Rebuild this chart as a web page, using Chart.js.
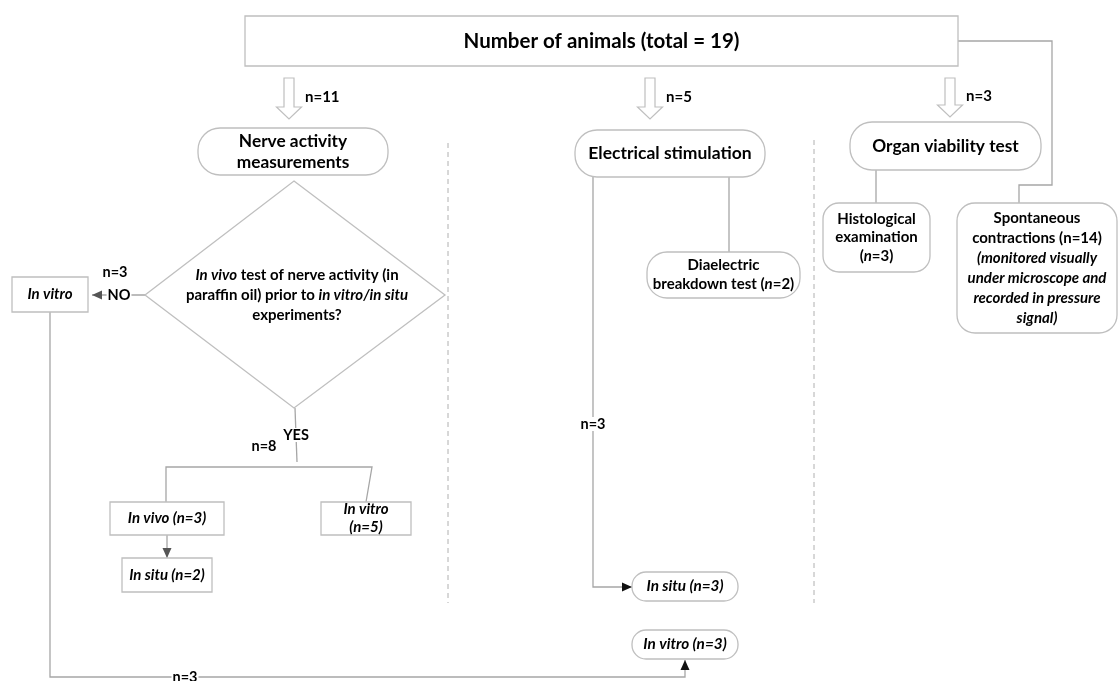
<!DOCTYPE html>
<html>
<head>
<meta charset="utf-8">
<script src="https://cdn.jsdelivr.net/npm/chart.js@4.4.1/dist/chart.umd.min.js"></script>
<style>
  body { margin: 0; background: #fff; }
  #wrap { width: 1118px; height: 681px; }
</style>
</head>
<body>
<div id="wrap"><canvas id="myChart" width="1118" height="681"></canvas></div>
<script>
// Values of the flowchart
const totalAnimals = 19
const branchNames = ['Nerve activity measurements', 'Electrical stimulation', 'Organ viability test']
const branchN = [11, 5, 3]
const nerveAnswers = ['NO', 'YES']
const nerveAnswerN = [3, 8]
const nerveOutcomes = ['In vitro', 'In vivo', 'In situ', 'In vitro']
const nerveOutcomeN = [3, 3, 2, 5]
const elecOutcomes = ['Diaelectric breakdown test', 'In situ', 'In vitro']
const elecOutcomeN = [2, 3, 3]
const viabilityOutcomes = ['Histological examination', 'Spontaneous contractions']
const viabilityOutcomeN = [3, 14]

// Helpers for segments: [text, italic]
const B = t => [t, false]
const I = t => [t, true]

// Layout (chart units, y going down)
const LINE = '#a6a6a6'
const BORDER = '#bfbfbf'

const nodes = [
  { box: [245, 16, 958, 66], r: 0, size: 20.5, lines: [[B('Number of animals (total = ' + totalAnimals + ')')]], lh: 20 },
  { box: [198, 128, 388, 175], r: 22, size: 17.3, lines: [[B('Nerve activity')], [B('measurements')]], lh: 21 },
  { box: [575, 130, 765, 177], r: 22, size: 17.5, lines: [[B(branchNames[1])]], lh: 20 },
  { box: [850, 122, 1041, 170], r: 22, size: 17.3, lines: [[B(branchNames[2])]], lh: 20 },
  { box: [12, 277, 88, 312], r: 0, size: 15, lines: [[I(nerveOutcomes[0])]], lh: 18 },
  { box: [110, 502, 224, 535], r: 0, size: 15, lines: [[I(nerveOutcomes[1] + ' (n=' + nerveOutcomeN[1] + ')')]], lh: 18 },
  { box: [122, 558, 212, 592], r: 0, size: 15, lines: [[I(nerveOutcomes[2] + ' (n=' + nerveOutcomeN[2] + ')')]], lh: 18 },
  { box: [321, 502, 411, 535], r: 0, size: 15, lines: [[I(nerveOutcomes[3])], [I('(n=' + nerveOutcomeN[3] + ')')]], lh: 18 },
  { box: [647, 252, 800, 298], r: 20, size: 15, lines: [[B('Diaelectric')], [B('breakdown test ('), I('n'), B('=' + elecOutcomeN[0] + ')')]], lh: 19 },
  { box: [632, 572, 738, 601], r: 14, size: 15.3, lines: [[I(elecOutcomes[1] + ' (n=' + elecOutcomeN[1] + ')')]], lh: 18 },
  { box: [632, 630, 738, 659], r: 14, size: 15.3, lines: [[I(elecOutcomes[2] + ' (n=' + elecOutcomeN[2] + ')')]], lh: 18 },
  { box: [823, 203, 930, 272], r: 16, size: 15, lines: [[B('Histological')], [B('examination')], [B('('), I('n'), B('=' + viabilityOutcomeN[0] + ')')]], lh: 18.5 },
  { box: [957, 203, 1117, 333], r: 18, size: 15, lines: [[B('Spontaneous')], [B('contractions (n=' + viabilityOutcomeN[1] + ')')], [I('(monitored visually')], [I('under microscope and')], [I('recorded in pressure')], [I('signal)')]], lh: 20 }
]

const diamond = { cx: 294, top: 181, bottom: 408, left: 145, right: 445, mid: 295 }
const diamondLines = [
  [I('In vivo'), B(' test of nerve activity (in')],
  [B('paraffin oil) prior to '), I('in vitro/in situ')],
  [B('experiments?')]
]

// connectors: points, arrowhead at end?, colour of head
const links = [
  { pts: [[958, 41], [1052, 41], [1052, 185], [1019, 185], [1019, 203]] },
  { pts: [[145, 295], [92, 295]], head: '#555' },
  { pts: [[50, 312], [50, 677], [685, 677], [685, 660]], head: '#111' },
  { pts: [[295, 408], [297, 462]] },
  { pts: [[166, 502], [166, 467], [372, 467], [366, 502]] },
  { pts: [[167, 535], [167, 558]], head: '#555' },
  { pts: [[593, 175], [593, 587], [632, 587]], head: '#111' },
  { pts: [[729, 176], [729, 252]] },
  { pts: [[876, 170], [876, 203]] }
]

const hollowArrows = [
  { x: 289, y1: 78, y2: 119, label: 'n=' + branchN[0] },
  { x: 650, y1: 78, y2: 119, label: 'n=' + branchN[1] },
  { x: 950, y1: 78, y2: 117, label: 'n=' + branchN[2] }
]

const dashed = [[448, 143, 603], [814, 140, 603]]

// free labels: text, x, y, white background?
const labels = [
  { t: nerveAnswers[0], x: 119, y: 295, bg: true },
  { t: 'n=' + nerveAnswerN[0], x: 115, y: 272 },
  { t: nerveAnswers[1], x: 296, y: 435, bg: true },
  { t: 'n=' + nerveAnswerN[1], x: 264, y: 446 },
  { t: 'n=' + nerveOutcomeN[0], x: 185, y: 677, bg: true },
  { t: 'n=' + elecOutcomeN[1], x: 593, y: 424, bg: true }
]

const FONT = 'Lato, "Open Sans", sans-serif'

function fontOf(size, italic) {
  return (italic ? 'italic ' : '') + 'bold ' + size + 'px ' + FONT
}

function drawSegs(ctx, segs, cx, cy, size) {
  var w = 0
  segs.forEach(function (s) { ctx.font = fontOf(size, s[1]); w += ctx.measureText(s[0]).width })
  var x = cx - w / 2
  ctx.textBaseline = 'middle'
  ctx.textAlign = 'left'
  ctx.fillStyle = '#000'
  segs.forEach(function (s) {
    ctx.font = fontOf(size, s[1])
    ctx.fillText(s[0], x, cy)
    x += ctx.measureText(s[0]).width
  })
}

function roundRect(ctx, x1, y1, x2, y2, r) {
  ctx.beginPath()
  if (r > 0) ctx.roundRect(x1, y1, x2 - x1, y2 - y1, r)
  else ctx.rect(x1, y1, x2 - x1, y2 - y1)
  ctx.fillStyle = '#fff'
  ctx.fill()
  ctx.strokeStyle = BORDER
  ctx.lineWidth = 1.3
  ctx.stroke()
}

const flowPlugin = {
  id: 'flow',
  afterDraw(chart) {
    const ctx = chart.ctx
    const sx = v => chart.scales.x.getPixelForValue(v)
    const sy = v => chart.scales.y.getPixelForValue(v)
    ctx.save()
    ctx.lineJoin = 'miter'

    // dashed separators
    ctx.strokeStyle = '#b0b0b0'
    ctx.lineWidth = 1
    ctx.setLineDash([5, 4])
    dashed.forEach(function (d) {
      ctx.beginPath()
      ctx.moveTo(sx(d[0]), sy(d[1]))
      ctx.lineTo(sx(d[0]), sy(d[2]))
      ctx.stroke()
    })
    ctx.setLineDash([])

    // connectors
    links.forEach(function (l) {
      ctx.strokeStyle = LINE
      ctx.lineWidth = 1.3
      ctx.beginPath()
      l.pts.forEach(function (p, i) {
        if (i == 0) ctx.moveTo(sx(p[0]), sy(p[1]))
        else ctx.lineTo(sx(p[0]), sy(p[1]))
      })
      ctx.stroke()
      if (l.head) {
        var a = l.pts[l.pts.length - 2], b = l.pts[l.pts.length - 1]
        var ang = Math.atan2(sy(b[1]) - sy(a[1]), sx(b[0]) - sx(a[0]))
        var len = 10, half = 4.5
        var tx = sx(b[0]), ty = sy(b[1])
        ctx.fillStyle = l.head
        ctx.beginPath()
        ctx.moveTo(tx, ty)
        ctx.lineTo(tx - len * Math.cos(ang) + half * Math.sin(ang), ty - len * Math.sin(ang) - half * Math.cos(ang))
        ctx.lineTo(tx - len * Math.cos(ang) - half * Math.sin(ang), ty - len * Math.sin(ang) + half * Math.cos(ang))
        ctx.closePath()
        ctx.fill()
      }
    })

    // hollow arrows
    hollowArrows.forEach(function (h) {
      var x = sx(h.x), y1 = sy(h.y1), y2 = sy(h.y2)
      var sw = 5, hw = 12.5, hl = 12
      ctx.beginPath()
      ctx.moveTo(x - sw, y1)
      ctx.lineTo(x + sw, y1)
      ctx.lineTo(x + sw, y2 - hl)
      ctx.lineTo(x + hw, y2 - hl)
      ctx.lineTo(x, y2)
      ctx.lineTo(x - hw, y2 - hl)
      ctx.lineTo(x - sw, y2 - hl)
      ctx.closePath()
      ctx.fillStyle = '#fff'
      ctx.fill()
      ctx.strokeStyle = BORDER
      ctx.lineWidth = 1.2
      ctx.stroke()
      ctx.font = fontOf(15, false)
      ctx.fillStyle = '#000'
      ctx.textAlign = 'left'
      ctx.textBaseline = 'middle'
      ctx.fillText(h.label, x + 16, sy((h.y1 + h.y2) / 2 - 1))
    })

    // diamond
    ctx.beginPath()
    ctx.moveTo(sx(diamond.cx), sy(diamond.top))
    ctx.lineTo(sx(diamond.right), sy(diamond.mid))
    ctx.lineTo(sx(diamond.cx), sy(diamond.bottom))
    ctx.lineTo(sx(diamond.left), sy(diamond.mid))
    ctx.closePath()
    ctx.fillStyle = '#fff'
    ctx.fill()
    ctx.strokeStyle = BORDER
    ctx.lineWidth = 1.3
    ctx.stroke()
    diamondLines.forEach(function (segs, i) {
      drawSegs(ctx, segs, sx(297), sy(275 + i * 20), 15)
    })

    // boxes
    nodes.forEach(function (n) {
      var b = n.box
      roundRect(ctx, sx(b[0]), sy(b[1]), sx(b[2]), sy(b[3]), n.r)
      var cx = (b[0] + b[2]) / 2, cy = (b[1] + b[3]) / 2
      var start = cy - (n.lines.length - 1) * n.lh / 2
      n.lines.forEach(function (segs, i) {
        drawSegs(ctx, segs, sx(cx), sy(start + i * n.lh), n.size)
      })
    })

    // free labels
    labels.forEach(function (l) {
      ctx.font = fontOf(14.5, false)
      var w = ctx.measureText(l.t).width
      if (l.bg) {
        ctx.fillStyle = '#fff'
        ctx.fillRect(sx(l.x) - w / 2 - 1, sy(l.y) - 7, w + 2, 14)
      }
      drawSegs(ctx, [B(l.t)], sx(l.x), sy(l.y), 14.5)
    })
    ctx.restore()
  }
}

const config = {
  type: 'scatter',
  data: { datasets: [{ data: [], pointRadius: 0 }] },
  options: {
    responsive: false,
    animation: false,
    devicePixelRatio: 1,
    layout: { padding: 0 },
    plugins: { legend: { display: false }, tooltip: { enabled: false } },
    scales: {
      x: { type: 'linear', min: 0, max: 1118, display: false },
      y: { type: 'linear', min: 0, max: 681, reverse: true, display: false }
    }
  },
  plugins: [flowPlugin]
}

const myChart = new Chart(document.getElementById('myChart'), config)
</script>
</body>
</html>
